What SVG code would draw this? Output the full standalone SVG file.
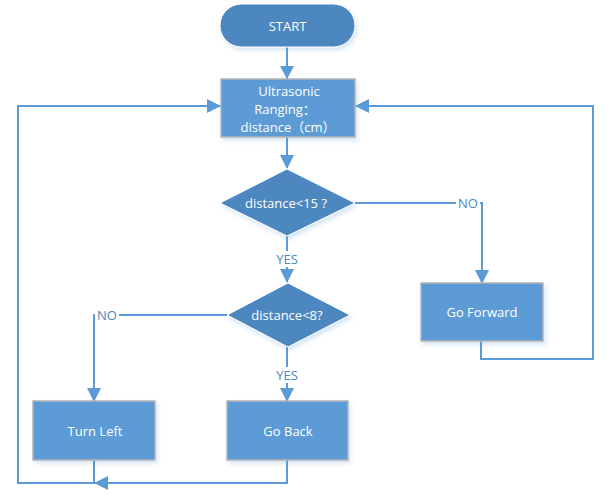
<svg xmlns="http://www.w3.org/2000/svg" width="612" height="500" viewBox="0 0 612 500">
<defs>
<style>
.t{font-family:"Open Sans","Liberation Sans","Noto Sans CJK SC",sans-serif;font-size:13px;fill:#ffffff;text-anchor:middle;dominant-baseline:central}
.lb{font-family:"Open Sans","Liberation Sans",sans-serif;font-size:13px;fill:#4a86be;text-anchor:middle;dominant-baseline:central}
.box{fill:#5b9bd5;stroke:#b4b4b4;stroke-width:1.5}
.dk{fill:#4d87bf;stroke:#ffffff;stroke-width:1}
.ln{fill:none;stroke:#5b9bd5;stroke-width:2}
</style>
<marker id="ah" viewBox="0 0 10 10" refX="10" refY="5" markerWidth="7" markerHeight="7" markerUnits="userSpaceOnUse" orient="auto">
<path d="M0,0 L10,5 L0,10 z" fill="#5b9bd5"/>
</marker>
<filter id="sh" x="-10%" y="-10%" width="130%" height="140%">
<feDropShadow dx="2" dy="3" stdDeviation="2" flood-color="#5b9bd5" flood-opacity="0.25"/>
</filter>
</defs>
<rect width="612" height="500" fill="#ffffff"/>
<g id="connectors">
<path class="ln" d="M287,47 V79" marker-end="url(#ah)" style="marker-end:none"/>
<polygon points="280,66 294,66 287,79" fill="#5b9bd5"/>
<path class="ln" d="M287,137 V168"/>
<polygon points="280,155 294,155 287,169" fill="#5b9bd5"/>
<path class="ln" d="M355,203 H482 V283"/>
<polygon points="475,270 489,270 482,284" fill="#5b9bd5"/>
<path class="ln" d="M287,236 V282"/>
<polygon points="280,269 294,269 287,283" fill="#5b9bd5"/>
<path class="ln" d="M227,315 H94 V401"/>
<polygon points="87,388 101,388 94,402" fill="#5b9bd5"/>
<path class="ln" d="M287,347 V401"/>
<polygon points="280,388 294,388 287,402" fill="#5b9bd5"/>
<path class="ln" d="M481,341 V359 H593 V106 H355"/>
<polygon points="369,99 369,113 355,106" fill="#5b9bd5"/>
<path class="ln" d="M287,460 V483 H94"/>
<polygon points="108,476 108,490 94,483" fill="#5b9bd5"/>
<path class="ln" d="M94,460 V483 H18 V106 H221"/>
<polygon points="207,99 207,113 221,106" fill="#5b9bd5"/>
<rect x="456" y="195" width="24" height="16" fill="#ffffff"/>
<text class="lb" x="468" y="203">NO</text>
<rect x="272" y="251" width="30" height="16" fill="#ffffff"/>
<text class="lb" x="287" y="259">YES</text>
<rect x="95" y="307" width="24" height="16" fill="#ffffff"/>
<text class="lb" x="107" y="315">NO</text>
<rect x="272" y="367" width="30" height="16" fill="#ffffff"/>
<text class="lb" x="287" y="375">YES</text>
</g>
<g id="start">
<rect x="220" y="4" width="135" height="43" rx="21.5" class="dk" filter="url(#sh)"/>
<text class="t" x="287.5" y="25.5">START</text>
</g>
<g id="ranging">
<rect x="221" y="79" width="134" height="58" class="box" filter="url(#sh)"/>
<text class="t" x="289" y="91">Ultrasonic</text>
<text class="t" x="285" y="109">Ranging：</text>
<text class="t" x="288" y="127">distance（cm）</text>
</g>
<g id="dec15">
<polygon points="287,169 355,203 287,236 220,203" class="dk" filter="url(#sh)"/>
<text class="t" x="286" y="203">distance&lt;15 ?</text>
</g>
<g id="dec8">
<polygon points="288,283 350,315 288,347 227,315" class="dk" filter="url(#sh)"/>
<text class="t" x="287" y="315">distance&lt;8?</text>
</g>
<g id="forward">
<rect x="421" y="283" width="122" height="58" class="box" filter="url(#sh)"/>
<text class="t" x="482" y="312">Go Forward</text>
</g>
<g id="left">
<rect x="33" y="401" width="122" height="59" class="box" filter="url(#sh)"/>
<text class="t" x="95" y="431">Turn Left</text>
</g>
<g id="back">
<rect x="227" y="401" width="121" height="59" class="box" filter="url(#sh)"/>
<text class="t" x="288" y="431">Go Back</text>
</g>
</svg>
